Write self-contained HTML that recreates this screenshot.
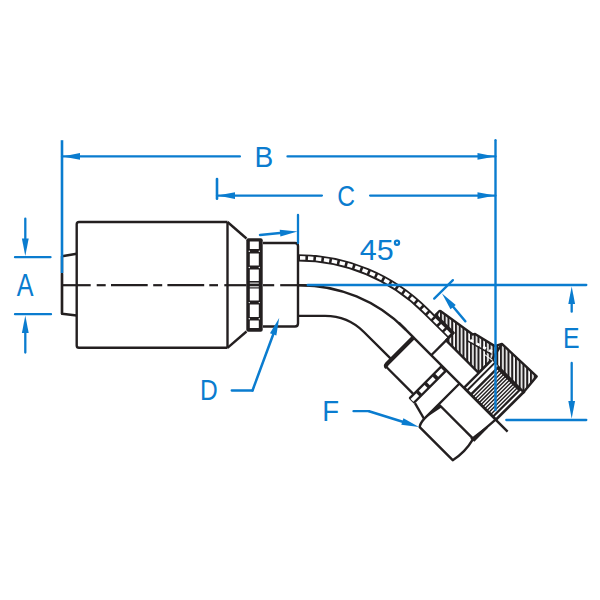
<!DOCTYPE html><html><head><meta charset="utf-8"><style>html,body{margin:0;padding:0;background:#fff;}svg{display:block;}</style></head><body><svg width="600" height="600" viewBox="0 0 600 600">
<defs>
<pattern id="hatch" patternUnits="userSpaceOnUse" width="3.75" height="10" patternTransform="rotate(-45)"><rect x="0" y="0" width="2.1" height="10" fill="#231f20"/></pattern>
<pattern id="thread" patternUnits="userSpaceOnUse" width="2.6" height="10"><rect x="0" y="0" width="1.5" height="10" fill="#231f20"/></pattern>
</defs>
<rect width="600" height="600" fill="#fff"/>
<g fill="none" stroke="#231f20" stroke-width="2.4" stroke-linejoin="round">
<polyline points="76.7,253.7 62,256.3 62,313.8 76.7,315.5"/>
<line x1="62.00" y1="274.00" x2="62.00" y2="313.80" stroke="#231f20" stroke-width="2.3" stroke-linecap="round"/>
<path d="M227.5,222 H79 Q76.7,222 76.7,224.3 V345.5 Q76.7,347.8 79,347.8 H227.5"/>
<line x1="227.5" y1="222" x2="227.5" y2="347.8"/>
<polyline points="227.5,222 246.5,238.5"/><polyline points="227.5,347.8 246.5,331.5"/>
<path d="M263,243 H295 Q298,243 298,246 V323.5 Q298,326.5 295,326.5 H263"/>
</g>
<rect x="246.3" y="238.3" width="16.4" height="93.4" rx="2" fill="#231f20"/>
<rect x="249.8" y="241.5" width="9.0" height="7.5" fill="#fff"/>
<rect x="249.8" y="253.5" width="9.0" height="12.0" fill="#fff"/>
<rect x="249.8" y="269.5" width="9.0" height="11.5" fill="#fff"/>
<rect x="249.8" y="288.5" width="9.0" height="12.0" fill="#fff"/>
<rect x="249.8" y="304.5" width="9.0" height="12.5" fill="#fff"/>
<rect x="249.8" y="320.5" width="9.0" height="7.5" fill="#fff"/>
<rect x="249.8" y="282.6" width="9" height="1" fill="#fff"/><rect x="249.8" y="286.3" width="9" height="1" fill="#fff"/>
<circle cx="249.3" cy="251.2" r="0.7" fill="#fff"/><circle cx="259.3" cy="251.2" r="0.7" fill="#fff"/>
<circle cx="249.3" cy="267.5" r="0.7" fill="#fff"/><circle cx="259.3" cy="267.5" r="0.7" fill="#fff"/>
<circle cx="249.3" cy="302.6" r="0.7" fill="#fff"/><circle cx="259.3" cy="302.6" r="0.7" fill="#fff"/>
<circle cx="249.3" cy="318.8" r="0.7" fill="#fff"/><circle cx="259.3" cy="318.8" r="0.7" fill="#fff"/>
<line x1="62.00" y1="285.20" x2="90.70" y2="285.20" stroke="#231f20" stroke-width="2.2" stroke-linecap="butt"/>
<line x1="96.70" y1="285.20" x2="105.70" y2="285.20" stroke="#231f20" stroke-width="2.2" stroke-linecap="butt"/>
<line x1="111.00" y1="285.20" x2="147.70" y2="285.20" stroke="#231f20" stroke-width="2.2" stroke-linecap="butt"/>
<line x1="153.20" y1="285.20" x2="162.20" y2="285.20" stroke="#231f20" stroke-width="2.2" stroke-linecap="butt"/>
<line x1="167.40" y1="285.20" x2="204.20" y2="285.20" stroke="#231f20" stroke-width="2.2" stroke-linecap="butt"/>
<line x1="209.30" y1="285.20" x2="218.00" y2="285.20" stroke="#231f20" stroke-width="2.2" stroke-linecap="butt"/>
<line x1="224.30" y1="285.20" x2="246.50" y2="285.20" stroke="#231f20" stroke-width="2.2" stroke-linecap="butt"/>
<line x1="263.00" y1="285.20" x2="274.20" y2="285.20" stroke="#231f20" stroke-width="2.2" stroke-linecap="butt"/>
<line x1="280.20" y1="285.20" x2="307.70" y2="285.20" stroke="#231f20" stroke-width="2.2" stroke-linecap="butt"/>
<g fill="none" stroke="#231f20" stroke-width="2.4">
<path d="M298,315.90 H325.00 A55.00,55.00 0 0 1 363.89,332.01 L391.20,359.19"/>
<path d="M298,285.20 H300.00 A147.70,147.70 0 0 1 404.44,328.46 L405.77,329.77"/>
</g>
<path d="M298,257.90 H298.00 A180.10,180.10 0 0 1 425.35,310.65 L450.74,335.71" fill="none" stroke="#231f20" stroke-width="7.40"/>
<rect x="-2.70" y="-1.80" width="5.4" height="3.6" fill="#fff" transform="translate(302.70,257.96) rotate(1.50)"/>
<rect x="-2.70" y="-1.80" width="5.4" height="3.6" fill="#fff" transform="translate(310.69,258.35) rotate(4.04)"/>
<rect x="-2.70" y="-1.80" width="5.4" height="3.6" fill="#fff" transform="translate(318.65,259.09) rotate(6.59)"/>
<rect x="-2.70" y="-1.80" width="5.4" height="3.6" fill="#fff" transform="translate(326.58,260.18) rotate(9.13)"/>
<rect x="-2.70" y="-1.80" width="5.4" height="3.6" fill="#fff" transform="translate(334.45,261.63) rotate(11.68)"/>
<rect x="-2.70" y="-1.80" width="5.4" height="3.6" fill="#fff" transform="translate(342.24,263.42) rotate(14.22)"/>
<rect x="-2.70" y="-1.80" width="5.4" height="3.6" fill="#fff" transform="translate(349.95,265.56) rotate(16.77)"/>
<rect x="-2.70" y="-1.80" width="5.4" height="3.6" fill="#fff" transform="translate(357.56,268.03) rotate(19.31)"/>
<rect x="-2.70" y="-1.80" width="5.4" height="3.6" fill="#fff" transform="translate(365.05,270.84) rotate(21.86)"/>
<rect x="-2.70" y="-1.80" width="5.4" height="3.6" fill="#fff" transform="translate(372.40,273.99) rotate(24.40)"/>
<rect x="-2.70" y="-1.80" width="5.4" height="3.6" fill="#fff" transform="translate(379.61,277.45) rotate(26.95)"/>
<rect x="-2.70" y="-1.80" width="5.4" height="3.6" fill="#fff" transform="translate(386.66,281.23) rotate(29.49)"/>
<rect x="-2.70" y="-1.80" width="5.4" height="3.6" fill="#fff" transform="translate(393.53,285.33) rotate(32.04)"/>
<rect x="-2.70" y="-1.80" width="5.4" height="3.6" fill="#fff" transform="translate(400.22,289.72) rotate(34.58)"/>
<rect x="-2.70" y="-1.80" width="5.4" height="3.6" fill="#fff" transform="translate(406.70,294.40) rotate(37.13)"/>
<rect x="-2.70" y="-1.80" width="5.4" height="3.6" fill="#fff" transform="translate(412.97,299.37) rotate(39.67)"/>
<rect x="-2.70" y="-1.80" width="5.4" height="3.6" fill="#fff" transform="translate(419.01,304.62) rotate(42.22)"/>
<rect x="-2.70" y="-1.80" width="5.4" height="3.6" fill="#fff" transform="translate(424.82,310.12) rotate(44.76)"/>
<rect x="-2.70" y="-1.80" width="5.4" height="3.6" fill="#fff" transform="translate(430.48,315.78) rotate(45.00)"/>
<rect x="-2.70" y="-1.80" width="5.4" height="3.6" fill="#fff" transform="translate(436.13,321.43) rotate(45.00)"/>
<rect x="-2.70" y="-1.80" width="5.4" height="3.6" fill="#fff" transform="translate(441.79,327.09) rotate(45.00)"/>
<rect x="-2.70" y="-1.80" width="5.4" height="3.6" fill="#fff" transform="translate(447.45,332.75) rotate(45.00)"/>
<g transform="translate(398.7,322.7) rotate(45)">
<path d="M20.5,-31.7 V-36 Q20.5,-37.8 22.5,-38 L60.7,-44.1 L62,-46 L84.5,-51.4 L88,-58 L135.5,-59.6 L137.5,-38.5 L92,-38.5 L92,-21 L46,-21 L46,-31.7 Z" fill="url(#hatch)" stroke="#231f20" stroke-width="2.4" stroke-linejoin="round"/>
<line x1="88" y1="-58" x2="92" y2="-40" stroke="#231f20" stroke-width="2.4"/>
<rect x="62.90" y="-40.00" width="3.2" height="2.8" fill="#fff" transform="rotate(-16 64.5 -38.6)"/>
<rect x="69.90" y="-42.20" width="3.2" height="2.8" fill="#fff" transform="rotate(-16 71.5 -40.8)"/>
<rect x="76.90" y="-44.30" width="3.2" height="2.8" fill="#fff" transform="rotate(-16 78.5 -42.9)"/>
<rect x="83.40" y="-46.30" width="3.2" height="2.8" fill="#fff" transform="rotate(-16 85.0 -44.9)"/>
<line x1="61" y1="-35.6" x2="88" y2="-43.2" stroke="#231f20" stroke-width="1.6"/>
<rect x="91" y="-40.5" width="47.7" height="40.5" fill="#231f20"/>
<rect x="103.20" y="-36.5" width="1.3" height="35" fill="#fff"/>
<rect x="105.95" y="-36.5" width="1.3" height="35" fill="#fff"/>
<rect x="108.70" y="-36.5" width="1.3" height="35" fill="#fff"/>
<rect x="111.45" y="-36.5" width="1.3" height="35" fill="#fff"/>
<rect x="114.20" y="-36.5" width="1.3" height="35" fill="#fff"/>
<rect x="116.95" y="-36.5" width="1.3" height="35" fill="#fff"/>
<rect x="119.70" y="-36.5" width="1.3" height="35" fill="#fff"/>
<rect x="122.45" y="-36.5" width="1.3" height="35" fill="#fff"/>
<rect x="125.20" y="-36.5" width="1.3" height="35" fill="#fff"/>
<rect x="127.95" y="-36.5" width="1.3" height="35" fill="#fff"/>
<rect x="130.70" y="-36.5" width="1.3" height="35" fill="#fff"/>
<rect x="93.4" y="-39.5" width="1.9" height="38" fill="#fff"/><rect x="97.3" y="-39.5" width="3.4" height="38" fill="#fff"/>
<rect x="134.2" y="-38" width="1.8" height="36.5" fill="#fff"/>
<line x1="83" y1="-38.3" x2="93" y2="-39.8" stroke="#fff" stroke-width="1"/>
<g fill="none" stroke="#231f20" stroke-width="2.4" stroke-linejoin="round">
<line x1="0" y1="0" x2="154" y2="0"/>
<line x1="46" y1="-24.3" x2="46" y2="0"/>
<line x1="20.5" y1="40" x2="60.2" y2="40"/>
<line x1="68.3" y1="45.3" x2="86.1" y2="50.1"/>
<path d="M86,0 V50 Q86.3,56 88.7,59 H135.4 Q138.8,45 134.9,29.8 L137,0"/>
<path d="M87,29.4 H134.9"/>
<path d="M85.8,47 L86.6,29.2 L90.2,29.2 L86.8,47 Z" fill="#231f20" stroke="none"/>
<path d="M132.6,31.4 L137.6,30.6 L137.4,11 L135.3,11 Z" fill="#231f20" stroke="none"/>
</g>
<path d="M20.8,0 V37.5 Q20.8,40 23.3,40" fill="none" stroke="#231f20" stroke-width="4.2"/>
<rect x="59.9" y="-0.8" width="8.6" height="47.3" rx="1.5" fill="#231f20"/>
<rect x="62.3" y="2.20" width="3.9" height="8.2" fill="#fff"/>
<rect x="62.3" y="14.10" width="3.9" height="8.2" fill="#fff"/>
<rect x="62.3" y="25.70" width="3.9" height="8.2" fill="#fff"/>
<rect x="62.3" y="37.30" width="3.9" height="8.2" fill="#fff"/>
</g>
<line x1="62.00" y1="140.20" x2="62.00" y2="273.00" stroke="#0a7ccf" stroke-width="2.6" stroke-linecap="butt"/>
<line x1="495.50" y1="140.20" x2="495.50" y2="410.00" stroke="#0a7ccf" stroke-width="2.4" stroke-linecap="round"/>
<line x1="62.00" y1="156.40" x2="239.90" y2="156.40" stroke="#0a7ccf" stroke-width="2.3" stroke-linecap="round"/>
<line x1="287.50" y1="156.40" x2="495.50" y2="156.40" stroke="#0a7ccf" stroke-width="2.3" stroke-linecap="round"/>
<polygon points="62.50,156.40 80.00,153.00 80.00,159.80" fill="#0a7ccf"/>
<polygon points="495.00,156.40 477.50,159.80 477.50,153.00" fill="#0a7ccf"/>
<line x1="217.00" y1="179.10" x2="217.00" y2="198.80" stroke="#0a7ccf" stroke-width="2.6" stroke-linecap="round"/>
<line x1="217.00" y1="195.60" x2="321.90" y2="195.60" stroke="#0a7ccf" stroke-width="2.3" stroke-linecap="round"/>
<line x1="370.10" y1="195.60" x2="495.50" y2="195.60" stroke="#0a7ccf" stroke-width="2.3" stroke-linecap="round"/>
<polygon points="217.50,195.60 235.00,192.20 235.00,199.00" fill="#0a7ccf"/>
<polygon points="495.00,195.60 477.50,199.00 477.50,192.20" fill="#0a7ccf"/>
<line x1="15.00" y1="257.20" x2="50.50" y2="257.20" stroke="#0a7ccf" stroke-width="2.3" stroke-linecap="round"/>
<line x1="15.00" y1="314.20" x2="51.00" y2="314.20" stroke="#0a7ccf" stroke-width="2.3" stroke-linecap="round"/>
<line x1="25.30" y1="218.70" x2="25.30" y2="245.00" stroke="#0a7ccf" stroke-width="2.3" stroke-linecap="round"/>
<polygon points="25.30,256.00 21.90,238.50 28.70,238.50" fill="#0a7ccf"/>
<line x1="25.30" y1="325.00" x2="25.30" y2="352.50" stroke="#0a7ccf" stroke-width="2.3" stroke-linecap="round"/>
<polygon points="25.30,315.50 28.70,333.00 21.90,333.00" fill="#0a7ccf"/>
<line x1="298.00" y1="215.00" x2="298.00" y2="243.00" stroke="#0a7ccf" stroke-width="2.3" stroke-linecap="round"/>
<line x1="260.00" y1="235.00" x2="285.00" y2="232.60" stroke="#0a7ccf" stroke-width="2.5" stroke-linecap="round"/>
<polygon points="297.50,231.60 280.39,236.59 279.76,229.82" fill="#0a7ccf"/>
<line x1="307.70" y1="285.00" x2="586.30" y2="285.00" stroke="#0a7ccf" stroke-width="2.3" stroke-linecap="round"/>
<line x1="506.30" y1="420.00" x2="586.30" y2="420.00" stroke="#0a7ccf" stroke-width="2.3" stroke-linecap="round"/>
<line x1="571.70" y1="295.00" x2="571.70" y2="311.70" stroke="#0a7ccf" stroke-width="2.3" stroke-linecap="round"/>
<polygon points="571.70,286.50 575.10,304.00 568.30,304.00" fill="#0a7ccf"/>
<line x1="571.70" y1="363.00" x2="571.70" y2="410.00" stroke="#0a7ccf" stroke-width="2.3" stroke-linecap="round"/>
<polygon points="571.70,418.50 568.30,401.00 575.10,401.00" fill="#0a7ccf"/>
<line x1="231.70" y1="390.50" x2="252.50" y2="390.50" stroke="#0a7ccf" stroke-width="2.3" stroke-linecap="round"/>
<line x1="252.50" y1="390.50" x2="273.00" y2="335.00" stroke="#0a7ccf" stroke-width="2.5" stroke-linecap="round"/>
<polygon points="279.20,318.00 276.34,335.60 269.96,333.25" fill="#0a7ccf"/>
<line x1="353.50" y1="411.20" x2="369.00" y2="411.20" stroke="#0a7ccf" stroke-width="2.3" stroke-linecap="round"/>
<line x1="369.00" y1="411.20" x2="405.00" y2="422.50" stroke="#0a7ccf" stroke-width="2.5" stroke-linecap="round"/>
<polygon points="419.00,427.00 401.31,424.78 403.43,418.32" fill="#0a7ccf"/>
<line x1="434.20" y1="298.60" x2="452.90" y2="280.10" stroke="#0a7ccf" stroke-width="2.3" stroke-linecap="round"/>
<line x1="465.30" y1="321.30" x2="450.00" y2="303.00" stroke="#0a7ccf" stroke-width="2.5" stroke-linecap="round"/>
<polygon points="442.00,293.60 455.77,304.93 450.52,309.26" fill="#0a7ccf"/>
<text transform="matrix(0.85 0 0 1.04 16.8 295.8)" font-family="Liberation Sans, sans-serif" font-size="29.6" fill="#0a7ccf">A</text>
<text transform="matrix(0.95 0 0 1.01 254.4 166.7)" font-family="Liberation Sans, sans-serif" font-size="29.6" fill="#0a7ccf">B</text>
<text transform="matrix(0.83 0 0 1.02 337.2 205.7)" font-family="Liberation Sans, sans-serif" font-size="29.6" fill="#0a7ccf">C</text>
<text transform="matrix(0.83 0 0 1.0 199.9 400.1)" font-family="Liberation Sans, sans-serif" font-size="29.6" fill="#0a7ccf">D</text>
<text transform="matrix(0.84 0 0 1.0 562.9 347.6)" font-family="Liberation Sans, sans-serif" font-size="29.6" fill="#0a7ccf">E</text>
<text transform="matrix(0.93 0 0 1.0 322.2 421.1)" font-family="Liberation Sans, sans-serif" font-size="29.6" fill="#0a7ccf">F</text>
<text transform="matrix(1.03 0 0 1.0 359.8 260.35)" font-family="Liberation Sans, sans-serif" font-size="29.6" fill="#0a7ccf">45</text>
<circle cx="397" cy="242.7" r="2.1" fill="none" stroke="#0a7ccf" stroke-width="2.2"/>
</svg></body></html>
